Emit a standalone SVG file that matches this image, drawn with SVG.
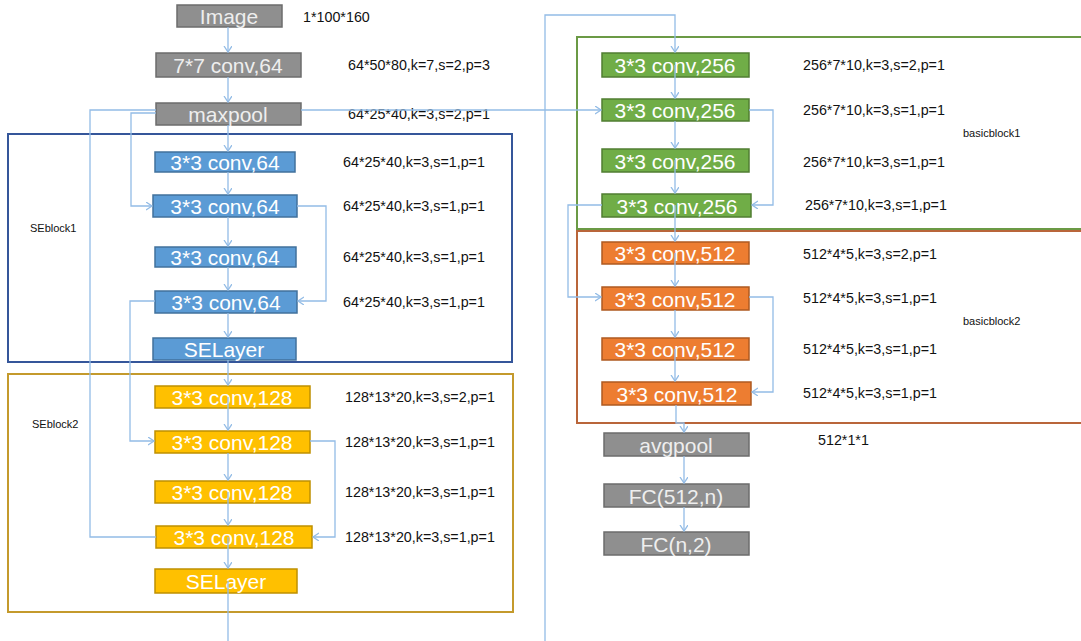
<svg xmlns="http://www.w3.org/2000/svg" width="1081" height="641" viewBox="0 0 1081 641">
<style>
.box{stroke-width:1.5}
.gray{fill:#8F8F8F;stroke:#6C6C6C}
.blue{fill:#5B9BD5;stroke:#41719C}
.yel{fill:#FFC000;stroke:#BF9000}
.grn{fill:#70AD47;stroke:#507E32}
.org{fill:#ED7D31;stroke:#AE5A21}
.bt{font-family:"Liberation Sans",Arial,sans-serif;font-size:21px;fill:#FFFFFF;text-anchor:middle}
.gt{fill:#EEEEEE}
.ann{font-family:"Liberation Sans",Arial,sans-serif;font-size:14.3px;fill:#111111}
.lbl{font-family:"Liberation Sans",Arial,sans-serif;font-size:11px;fill:#111111}
.frame{fill:none;stroke-width:2}
.c{fill:none;stroke:#93BCE6;stroke-width:1.3}
</style>
<defs>
<marker id="ah" markerWidth="10" markerHeight="10" refX="6" refY="4" orient="auto" markerUnits="userSpaceOnUse">
<path d="M0,0 L6,4 L0,8" fill="none" stroke="#93BCE6" stroke-width="1.3"/>
</marker>
</defs>
<rect width="1081" height="641" fill="#FFFFFF"/>

<g id="frames">
<rect id="SEblock1-frame" class="frame" x="8" y="134" width="504" height="228" stroke="#35569A"/>
<rect id="SEblock2-frame" class="frame" x="8" y="374" width="505" height="238" stroke="#C49A2C"/>
<rect id="basicblock1-frame" class="frame" x="577" y="37" width="510" height="192" stroke="#6B9A45"/>
<rect id="basicblock2-frame" class="frame" x="577" y="231" width="510" height="192" stroke="#B9653A"/>
<text class="lbl" x="30" y="232">SEblock1</text>
<text class="lbl" x="32" y="428">SEblock2</text>
<text class="lbl" x="963" y="137">basicblock1</text>
<text class="lbl" x="963" y="325">basicblock2</text>
</g>

<g id="n-image"><rect class="box gray" x="177" y="5" width="105" height="22"/><text class="bt gt" x="229" y="23.5">Image</text></g>
<g id="n-conv7"><rect class="box gray" x="156" y="53" width="145" height="24"/><text class="bt gt" x="228" y="72.5">7*7 conv,64</text></g>
<g id="n-maxpool"><rect class="box gray" x="156" y="103" width="145" height="22"/><text class="bt gt" x="228" y="121.5">maxpool</text></g>

<g id="n-c64-1"><rect class="box blue" x="155" y="152" width="140" height="20"/><text class="bt" x="225" y="169.5">3*3 conv,64</text></g>
<g id="n-c64-2"><rect class="box blue" x="153" y="195" width="144" height="22"/><text class="bt" x="225" y="213.5">3*3 conv,64</text></g>
<g id="n-c64-3"><rect class="box blue" x="155" y="247" width="141" height="20"/><text class="bt" x="225" y="264.5">3*3 conv,64</text></g>
<g id="n-c64-4"><rect class="box blue" x="155" y="291" width="142" height="22"/><text class="bt" x="226" y="309.5">3*3 conv,64</text></g>
<g id="n-se1"><rect class="box blue" x="153" y="338" width="143" height="22"/><text class="bt" x="224" y="356.5">SELayer</text></g>

<g id="n-c128-1"><rect class="box yel" x="155" y="386" width="155" height="22"/><text class="bt" x="232" y="404.5">3*3 conv,128</text></g>
<g id="n-c128-2"><rect class="box yel" x="155" y="431" width="155" height="22"/><text class="bt" x="232" y="449.5">3*3 conv,128</text></g>
<g id="n-c128-3"><rect class="box yel" x="155" y="481" width="155" height="22"/><text class="bt" x="232" y="499.5">3*3 conv,128</text></g>
<g id="n-c128-4"><rect class="box yel" x="156" y="526" width="156" height="22"/><text class="bt" x="234" y="544.5">3*3 conv,128</text></g>
<g id="n-se2"><rect class="box yel" x="155" y="569" width="142" height="24"/><text class="bt" x="226" y="588.5">SELayer</text></g>

<g id="n-c256-1"><rect class="box grn" x="602" y="53" width="147" height="24"/><text class="bt" x="675" y="72.5">3*3 conv,256</text></g>
<g id="n-c256-2"><rect class="box grn" x="602" y="99" width="147" height="22"/><text class="bt" x="675" y="117.5">3*3 conv,256</text></g>
<g id="n-c256-3"><rect class="box grn" x="602" y="149" width="147" height="23"/><text class="bt" x="675" y="168.5">3*3 conv,256</text></g>
<g id="n-c256-4"><rect class="box grn" x="602" y="194" width="149" height="23"/><text class="bt" x="677" y="213.5">3*3 conv,256</text></g>

<g id="n-c512-1"><rect class="box org" x="602" y="242" width="147" height="22"/><text class="bt" x="675" y="260.5">3*3 conv,512</text></g>
<g id="n-c512-2"><rect class="box org" x="602" y="287" width="147" height="23"/><text class="bt" x="675" y="306.5">3*3 conv,512</text></g>
<g id="n-c512-3"><rect class="box org" x="602" y="338" width="147" height="22"/><text class="bt" x="675" y="356.5">3*3 conv,512</text></g>
<g id="n-c512-4"><rect class="box org" x="602" y="382" width="149" height="23"/><text class="bt" x="677" y="401.5">3*3 conv,512</text></g>

<g id="n-avgpool"><rect class="box gray" x="604" y="433" width="145" height="23"/><text class="bt gt" x="676" y="452.5">avgpool</text></g>
<g id="n-fc1"><rect class="box gray" x="604" y="484" width="145" height="23"/><text class="bt gt" x="676" y="503.5">FC(512,n)</text></g>
<g id="n-fc2"><rect class="box gray" x="604" y="532" width="145" height="23"/><text class="bt gt" x="676" y="551.5">FC(n,2)</text></g>

<g id="annotations">
<text class="ann" x="303" y="22">1*100*160</text>
<text class="ann" x="348" y="70">64*50*80,k=7,s=2,p=3</text>
<text class="ann" x="348" y="119">64*25*40,k=3,s=2,p=1</text>
<text class="ann" x="343" y="167">64*25*40,k=3,s=1,p=1</text>
<text class="ann" x="343" y="211">64*25*40,k=3,s=1,p=1</text>
<text class="ann" x="343" y="262">64*25*40,k=3,s=1,p=1</text>
<text class="ann" x="343" y="307">64*25*40,k=3,s=1,p=1</text>
<text class="ann" x="345" y="402">128*13*20,k=3,s=2,p=1</text>
<text class="ann" x="345" y="447">128*13*20,k=3,s=1,p=1</text>
<text class="ann" x="345" y="497">128*13*20,k=3,s=1,p=1</text>
<text class="ann" x="345" y="542">128*13*20,k=3,s=1,p=1</text>
<text class="ann" x="803" y="70">256*7*10,k=3,s=2,p=1</text>
<text class="ann" x="803" y="115">256*7*10,k=3,s=1,p=1</text>
<text class="ann" x="803" y="167">256*7*10,k=3,s=1,p=1</text>
<text class="ann" x="805" y="210">256*7*10,k=3,s=1,p=1</text>
<text class="ann" x="803" y="259">512*4*5,k=3,s=2,p=1</text>
<text class="ann" x="803" y="303">512*4*5,k=3,s=1,p=1</text>
<text class="ann" x="803" y="354">512*4*5,k=3,s=1,p=1</text>
<text class="ann" x="803" y="398">512*4*5,k=3,s=1,p=1</text>
<text class="ann" x="818" y="445">512*1*1</text>
</g>

<g id="connectors">
<path class="c" d="M228,27 V52" marker-end="url(#ah)"/>
<path class="c" d="M228,77 V102" marker-end="url(#ah)"/>
<path class="c" d="M228,125 V151" marker-end="url(#ah)"/>
<path class="c" d="M228,172 V194" marker-end="url(#ah)"/>
<path class="c" d="M228,217 V246" marker-end="url(#ah)"/>
<path class="c" d="M228,267 V290" marker-end="url(#ah)"/>
<path class="c" d="M228,313 V337" marker-end="url(#ah)"/>
<path class="c" d="M228,360 V385" marker-end="url(#ah)"/>
<path class="c" d="M228,397 V430" marker-end="url(#ah)"/>
<path class="c" d="M228,453 V480" marker-end="url(#ah)"/>
<path class="c" d="M228,492 V525" marker-end="url(#ah)"/>
<path class="c" d="M228,537 V568" marker-end="url(#ah)"/>
<path class="c" d="M228,581 V641"/>
<path class="c" d="M156,110 H90 V537 H156"/>
<path class="c" d="M301,110 H601" marker-end="url(#ah)"/>
<path class="c" d="M156,113 H131 V206 H152" marker-end="url(#ah)"/>
<path class="c" d="M297,206 H326 V301 H298" marker-end="url(#ah)"/>
<path class="c" d="M155,301 H130 V441 H154" marker-end="url(#ah)"/>
<path class="c" d="M310,441 H335 V537 H313" marker-end="url(#ah)"/>
<path class="c" d="M545,641 V15 H675 V52" marker-end="url(#ah)"/>
<path class="c" d="M675,65 V98" marker-end="url(#ah)"/>
<path class="c" d="M675,121 V148" marker-end="url(#ah)"/>
<path class="c" d="M675,160 V193" marker-end="url(#ah)"/>
<path class="c" d="M675,205 V241" marker-end="url(#ah)"/>
<path class="c" d="M749,110 H773 V205 H752" marker-end="url(#ah)"/>
<path class="c" d="M602,205 H568 V297 H601" marker-end="url(#ah)"/>
<path class="c" d="M675,253 V286" marker-end="url(#ah)"/>
<path class="c" d="M675,310 V337" marker-end="url(#ah)"/>
<path class="c" d="M675,349 V381" marker-end="url(#ah)"/>
<path class="c" d="M749,297 H773 V392 H752" marker-end="url(#ah)"/>
<path class="c" d="M676,405 V423 H684 V432" marker-end="url(#ah)"/>
<path class="c" d="M684,456 V483" marker-end="url(#ah)"/>
<path class="c" d="M684,507 V531" marker-end="url(#ah)"/>
</g>
</svg>
